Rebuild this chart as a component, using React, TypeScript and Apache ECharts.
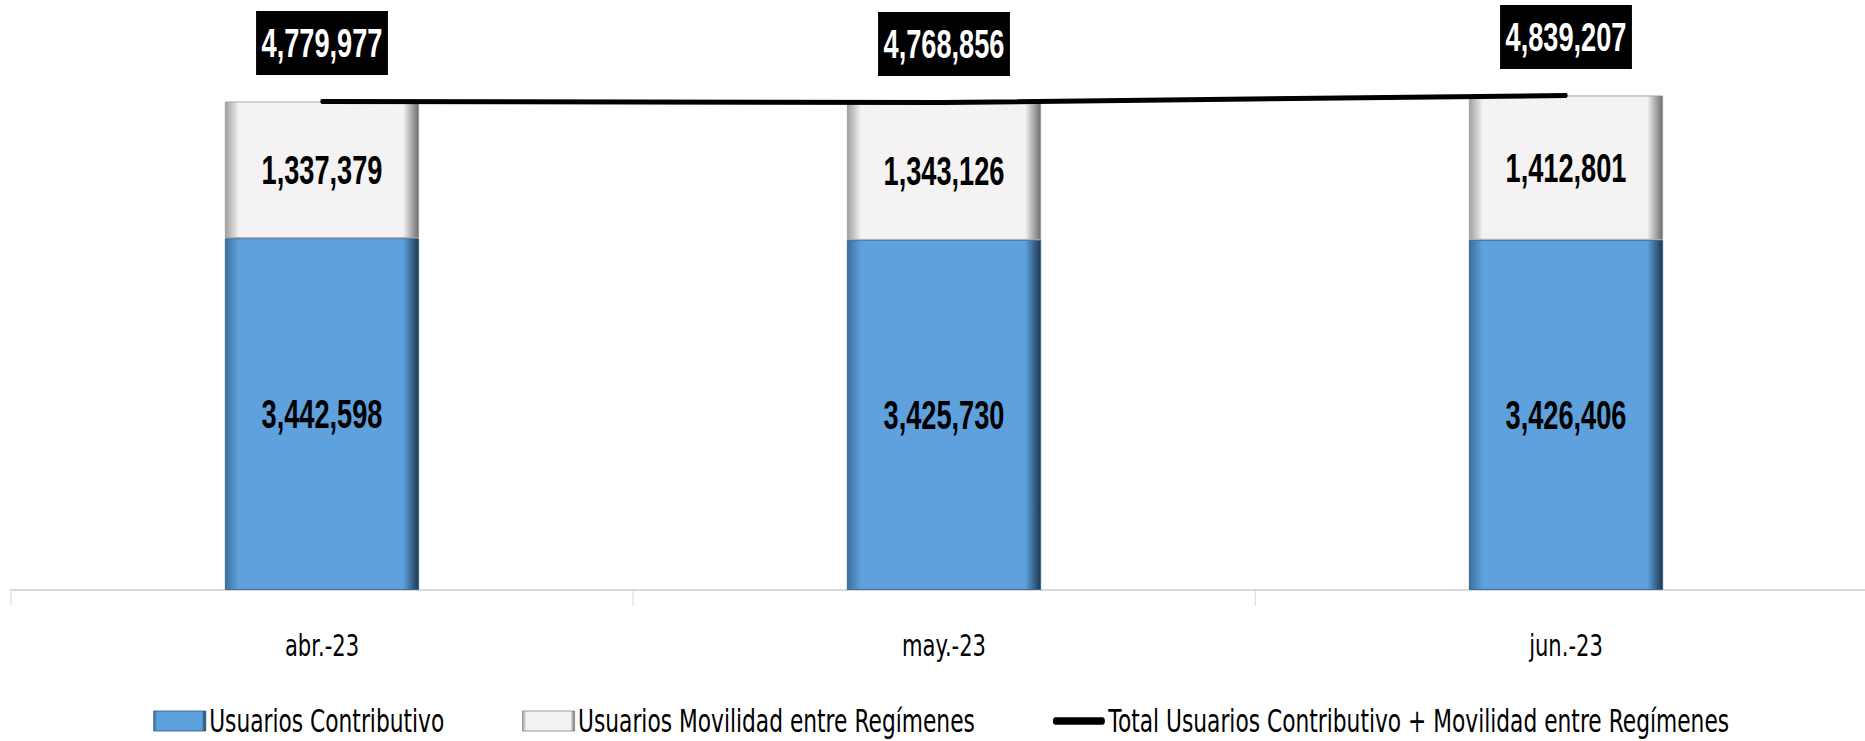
import React, { useEffect, useRef } from "react";
import * as echarts from "echarts";

const categories = ["abr.-23", "may.-23", "jun.-23"];
const contributivo = [3442598, 3425730, 3426406];
const movilidad = [1337379, 1343126, 1412801];
const totales = [4779977, 4768856, 4839207];
const seriesNames = [
  "Usuarios Contributivo",
  "Usuarios Movilidad entre Regímenes",
  "Total Usuarios Contributivo + Movilidad entre Regímenes",
];

// the whole chart is drawn in a wider space and squeezed horizontally (condensed look)
const SX = 0.68;
const W = 1865;
const H = 741;
const WIDE = (W + 40) / SX;
const wx = (v: number) => v / SX;

const BOLD_FONT = "'Liberation Sans', Arial, sans-serif";
const REG_FONT = "'DejaVu Sans', sans-serif";
const fmt = (v: number) => v.toLocaleString("en-US");

export default function App() {
  const ref = useRef<HTMLDivElement>(null);
  useEffect(() => {
    if (!ref.current) return;
    const chart = echarts.init(ref.current, undefined, { renderer: "svg" });
    const blue = new echarts.graphic.LinearGradient(0, 0, 1, 0, [
      { offset: 0, color: "#3d6e9e" },
      { offset: 0.07, color: "#5ea1dd" },
      { offset: 0.92, color: "#5ea1dd" },
      { offset: 1, color: "#1d3753" },
    ]);
    const white = new echarts.graphic.LinearGradient(0, 0, 1, 0, [
      { offset: 0, color: "#a0a0a0" },
      { offset: 0.07, color: "#f4f2f2" },
      { offset: 0.92, color: "#f4f2f2" },
      { offset: 1, color: "#6d6d6d" },
    ]);
    const barLabel = {
      show: true,
      position: "inside",
      formatter: (p: any) => fmt(p.value),
      fontFamily: BOLD_FONT,
      fontWeight: "bold",
      fontSize: 40,
      color: "#000",
    };
    chart.setOption({
      animation: false,
      textStyle: { fontFamily: REG_FONT },
      grid: { left: wx(11), top: 79, width: wx(1866), height: 511, containLabel: false },
      legend: {
        top: 700,
        left: wx(150),
        itemWidth: wx(52),
        itemHeight: 20,
        itemGap: wx(78),
        textStyle: { fontFamily: REG_FONT, fontSize: 32, color: "#000" },
        data: [
          { name: seriesNames[0], icon: "rect", itemStyle: { color: blue, borderColor: "#2f5e8c", borderWidth: 1 } },
          { name: seriesNames[1], icon: "rect", itemStyle: { color: white, borderColor: "#8a8a8a", borderWidth: 1 } },
          {
            name: seriesNames[2],
            icon: "path://M4,0 L76,0 A4,4 0 0 1 76,8 L4,8 A4,4 0 0 1 4,0 Z",
            itemStyle: { color: "#000" },
          },
        ],
      },
      xAxis: {
        type: "category",
        data: categories,
        axisLine: { lineStyle: { color: "#d9d9d9", width: 2 } },
        axisTick: { show: true, length: 16, lineStyle: { color: "#d9d9d9", width: 1.5 } },
        axisLabel: { fontFamily: REG_FONT, fontSize: 31, color: "#000", margin: 39 },
      },
      yAxis: { type: "value", min: 0, max: 5000000, show: false, splitLine: { show: false } },
      series: [
        {
          name: seriesNames[0],
          type: "bar",
          stack: "u",
          barWidth: wx(194),
          data: contributivo,
          itemStyle: { color: blue, borderColor: "#2f5e8c", borderWidth: 1 },
          label: barLabel,
        },
        {
          name: seriesNames[1],
          type: "bar",
          stack: "u",
          barWidth: wx(194),
          data: movilidad,
          itemStyle: { color: white, borderColor: "#9a9a9a", borderWidth: 1 },
          label: barLabel,
        },
        {
          name: seriesNames[2],
          type: "line",
          data: totales,
          symbol: "circle",
          symbolSize: 1,
          showSymbol: true,
          z: 5,
          lineStyle: { color: "#000", width: 5, cap: "round" },
          itemStyle: { color: "#000" },
          label: {
            show: true,
            position: "top",
            distance: 26,
            formatter: (p: any) => fmt(p.value),
            fontFamily: BOLD_FONT,
            fontWeight: "bold",
            fontSize: 40,
            lineHeight: 40,
            color: "#fff",
            backgroundColor: "#000",
            padding: [12, 8],
          },
        },
      ],
    });
    return () => chart.dispose();
  }, []);
  return (
    <div style={{ position: "absolute", left: 0, top: 0, width: W, height: H, overflow: "hidden", background: "#fff" }}>
      <div
        ref={ref}
        style={{
          position: "absolute",
          left: 0,
          top: 0,
          width: WIDE,
          height: H,
          transform: `scaleX(${SX})`,
          transformOrigin: "0 0",
        }}
      />
    </div>
  );
}
